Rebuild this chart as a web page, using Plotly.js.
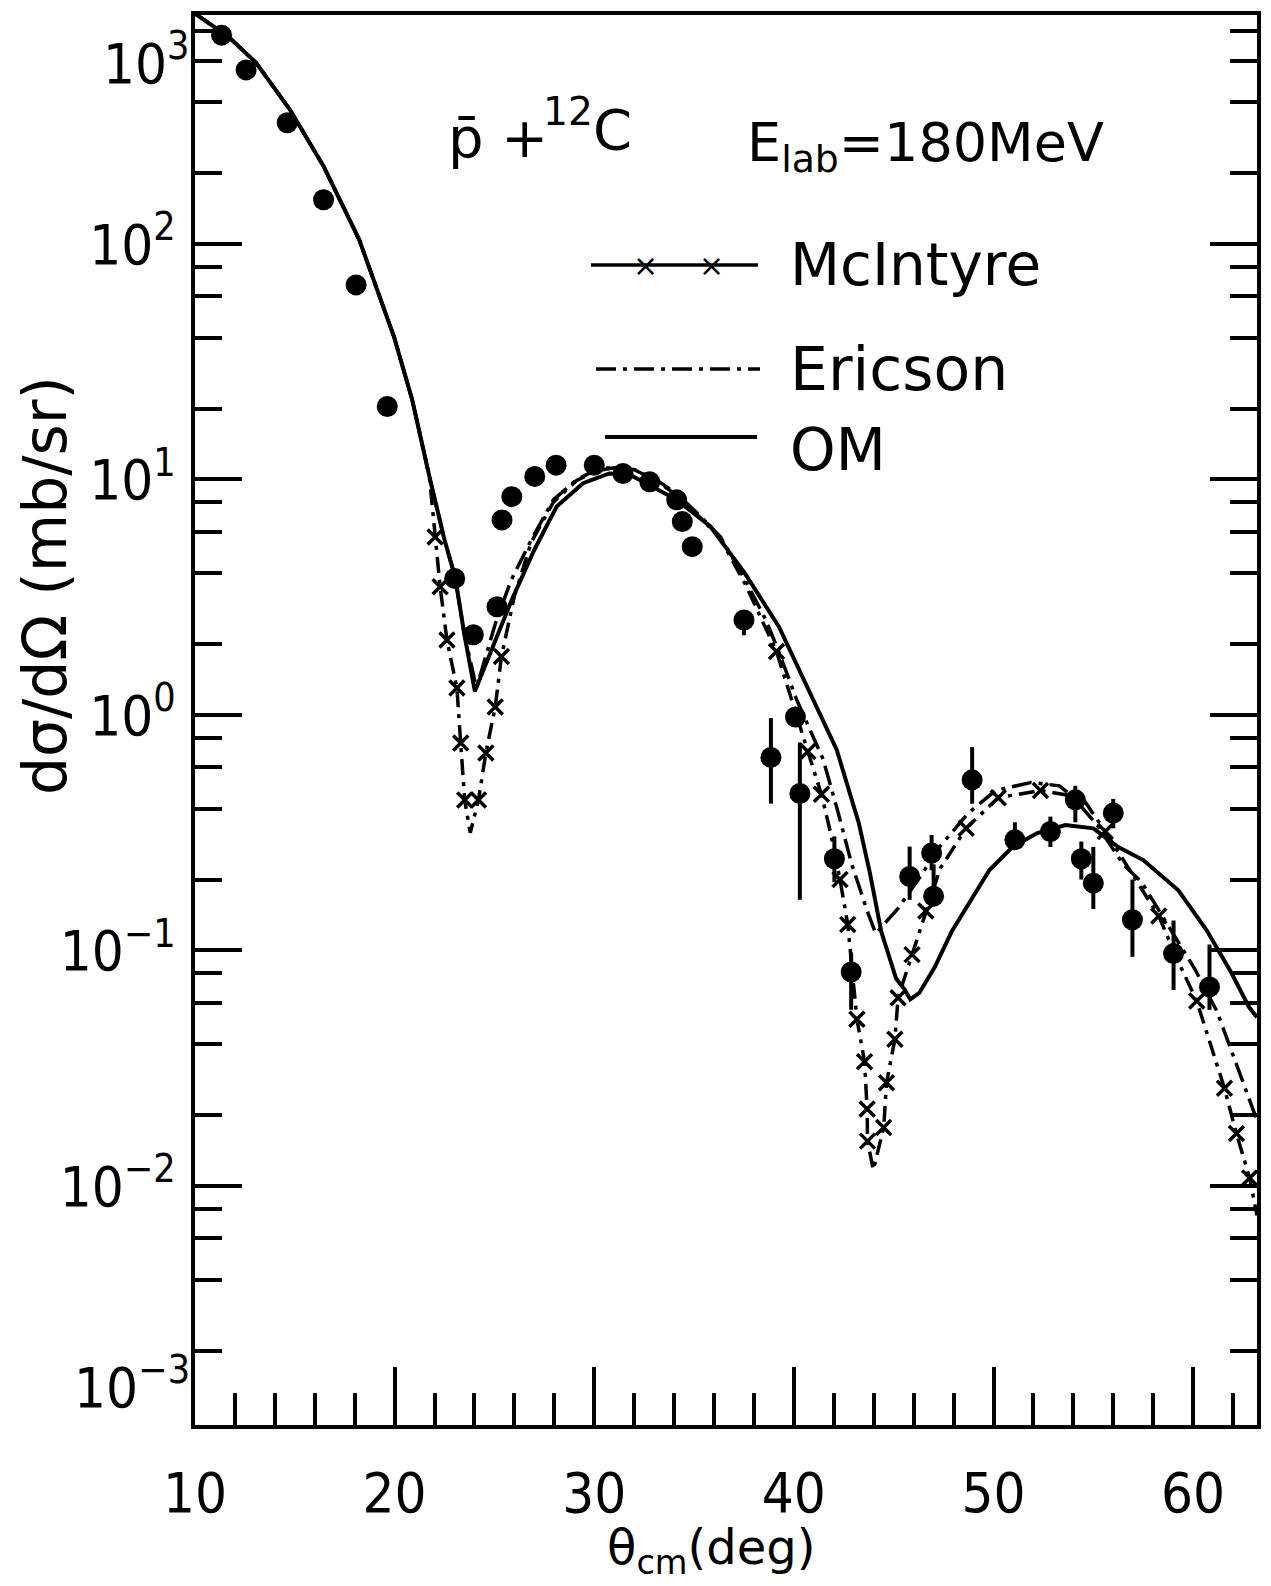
<!DOCTYPE html>
<html><head><meta charset="utf-8">
<script src="https://cdn.plot.ly/plotly-3.0.1.min.js"></script>
<style>html,body{margin:0;padding:0;background:#fff}#chart{width:1271px;height:1586px}</style>
</head><body><div id="chart"></div>
<script>
// ---- data ----
const omTheta = [10.0, 11.68, 13.06, 14.76, 16.46, 18.23, 19.97, 20.88, 21.74, 22.5, 23.03, 23.48, 24.02, 25.86, 27.0, 28.12, 29.44, 30.76, 31.77, 34.13, 35.82, 37.54, 39.25, 40.7, 42.15, 43.25, 43.81, 44.38, 45.12, 45.56, 45.83, 46.28, 47.06, 47.9, 48.77, 49.79, 50.97, 52.2, 53.6, 55.0, 56.25, 57.5, 59.26, 60.67, 61.93, 62.8, 63.2];
const omValue = [950, 757, 588, 371, 212, 104, 40.3, 21.8, 10.3, 5.53, 3.85, 2.23, 1.26, 3.07, 5.03, 7.68, 9.64, 10.6, 10.5, 8.19, 6.31, 4.0, 2.37, 1.3, 0.71, 0.348, 0.213, 0.12, 0.076, 0.068, 0.062, 0.066, 0.085, 0.12, 0.158, 0.219, 0.276, 0.315, 0.341, 0.33, 0.275, 0.242, 0.18, 0.122, 0.08, 0.0575, 0.052];

const ericsonTheta = [10.0, 11.68, 13.06, 14.76, 16.46, 18.23, 19.97, 20.88, 21.74, 22.5, 23.03, 23.48, 24.1, 25.05, 25.84, 26.84, 27.95, 29.12, 30.12, 31.0, 32.0, 33.0, 34.2, 35.3, 36.32, 37.56, 38.6, 39.27, 40.14, 40.82, 41.46, 42.2, 42.9, 43.7, 44.1, 45.22, 46.3, 47.3, 48.7, 50.1, 51.9, 53.3, 54.0, 55.2, 56.5, 57.4, 58.7, 60.1, 61.2, 62.6, 63.2];
const ericsonValue = [950, 757, 588, 371, 212, 104, 40.3, 21.8, 10.3, 5.53, 3.85, 2.23, 1.3, 2.45, 3.74, 5.53, 8.18, 10.0, 10.97, 11.3, 11.0, 10.1, 8.6, 7.0, 5.7, 3.74, 2.53, 1.83, 1.16, 0.86, 0.65, 0.39, 0.232, 0.145, 0.118, 0.151, 0.204, 0.275, 0.38, 0.478, 0.517, 0.5, 0.447, 0.34, 0.232, 0.196, 0.13, 0.083, 0.055, 0.026, 0.019];

const mcintyreTheta = [10.0, 11.68, 13.06, 14.76, 16.46, 18.23, 19.97, 20.88, 21.74, 22.03, 22.28, 22.62, 23.12, 23.31, 23.51, 23.79, 24.2, 24.57, 25.04, 25.35, 26.0, 26.84, 27.95, 29.12, 30.12, 31.0, 32.0, 33.0, 34.2, 35.3, 36.32, 37.56, 39.13, 40.7, 41.38, 41.86, 42.31, 42.7, 43.16, 43.54, 43.67, 43.69, 43.98, 44.5, 44.64, 45.06, 45.22, 45.92, 46.61, 47.33, 48.63, 50.24, 52.35, 54.45, 55.6, 58.28, 59.17, 60.18, 61.57, 62.17, 62.83, 63.2];
const mcintyreValue = [950, 757, 588, 371, 212, 104, 40.3, 21.8, 10.3, 5.7, 3.5, 2.08, 1.3, 0.76, 0.435, 0.316, 0.435, 0.69, 1.08, 1.77, 3.2, 5.4, 8.0, 9.9, 10.9, 11.2, 11.0, 10.0, 8.5, 6.9, 5.6, 3.6, 1.86, 0.7, 0.46, 0.31, 0.2, 0.129, 0.051, 0.0337, 0.0212, 0.0155, 0.0117, 0.0177, 0.0274, 0.042, 0.063, 0.096, 0.147, 0.223, 0.33, 0.445, 0.478, 0.445, 0.32, 0.14, 0.093, 0.061, 0.026, 0.0167, 0.0108, 0.0075];

const mcintyreMarkTheta = [22.03, 22.28, 22.62, 23.12, 23.31, 23.51, 24.2, 24.57, 25.04, 25.35, 39.13, 40.7, 41.38, 42.31, 42.7, 43.16, 43.54, 43.67, 43.69, 44.5, 44.64, 45.06, 45.22, 45.92, 46.61, 48.63, 50.24, 52.35, 55.6, 58.28, 60.18, 61.57, 62.17, 62.83];
const mcintyreMarkValue = [5.7, 3.5, 2.08, 1.3, 0.76, 0.435, 0.435, 0.69, 1.08, 1.77, 1.86, 0.7, 0.46, 0.2, 0.129, 0.051, 0.0337, 0.0212, 0.0155, 0.0177, 0.0274, 0.042, 0.063, 0.096, 0.147, 0.33, 0.445, 0.478, 0.32, 0.14, 0.061, 0.026, 0.0167, 0.0108];

const dataTheta = [11.33, 12.56, 14.62, 16.44, 18.07, 19.63, 23.01, 23.94, 25.13, 25.38, 25.87, 27.02, 28.09, 30.0, 31.44, 32.78, 34.13, 34.41, 34.91, 37.5, 38.85, 40.08, 40.3, 42.03, 42.87, 45.8, 46.9, 47.0, 48.93, 51.07, 52.85, 54.1, 54.4, 55.0, 56.0, 56.96, 59.02, 60.82];
const dataValue = [770, 548, 327, 154, 67, 20.4, 3.8, 2.19, 2.88, 6.73, 8.45, 10.3, 11.5, 11.5, 10.6, 9.77, 8.19, 6.62, 5.18, 2.53, 0.66, 0.98, 0.464, 0.245, 0.081, 0.206, 0.259, 0.17, 0.53, 0.295, 0.32, 0.436, 0.245, 0.193, 0.383, 0.135, 0.097, 0.07];
const dataErrPlus = [0, 0, 0, 0, 0, 0, 0, 0, 0, 0, 0, 0, 0, 0, 0, 0, 0, 0, 0, 0.25, 0.31, 0, 0.30, 0.06, 0.017, 0.07, 0.05, 0.062, 0.2, 0.055, 0.05, 0.064, 0.045, 0.082, 0.057, 0.065, 0.037, 0.036];
const dataErrMinus = [0, 0, 0, 0, 0, 0, 0, 0, 0, 0, 0, 0, 0, 0, 0, 0, 0, 0, 0, 0.35, 0.24, 0, 0.30, 0.05, 0.025, 0.042, 0.04, 0.013, 0.11, 0.025, 0.045, 0.086, 0.045, 0.043, 0.053, 0.041, 0.029, 0.014];

const xTickVals = [10, 20, 30, 40, 50, 60];
const xTickText = ['10', '20', '30', '40', '50', '60'];
const xMinorVals = [12, 14, 16, 18, 22, 24, 26, 28, 32, 34, 36, 38, 42, 44, 46, 48, 52, 54, 56, 58, 62];
const yTickVals = [0.01, 0.1, 1, 10, 100];
const yTickText = ['10<sup>−2</sup>', '10<sup>−1</sup>', '10<sup>0</sup>', '10<sup>1</sup>', '10<sup>2</sup>'];
const yMinorVals = [0.002, 0.004, 0.006, 0.008, 0.02, 0.04, 0.06, 0.08, 0.2, 0.4, 0.6, 0.8, 2, 4, 6, 8, 20, 40, 60, 80, 200, 400, 600, 800];

const legendNames = ['McIntyre', 'Ericson', 'OM'];

// ---- styles ----
const FONT = 'DejaVu Sans, Liberation Sans, sans-serif';
const NARROW = 'Liberation Sans Narrow, DejaVu Sans Condensed, DejaVu Sans, sans-serif';
const K = '#000';
const dashPattern = '20px,7px,4px,7px';

const traces = [
  {x: omTheta, y: omValue, type: 'scatter', mode: 'lines', line: {color: K, width: 4}, hoverinfo: 'skip'},
  {x: ericsonTheta, y: ericsonValue, type: 'scatter', mode: 'lines', line: {color: K, width: 3.5, dash: dashPattern}, hoverinfo: 'skip'},
  {x: mcintyreTheta, y: mcintyreValue, type: 'scatter', mode: 'lines', line: {color: K, width: 3.5, dash: '16px,7px,4px,7px'}, hoverinfo: 'skip'},
  {x: mcintyreMarkTheta, y: mcintyreMarkValue, type: 'scatter', mode: 'markers',
   marker: {symbol: 'x-thin', size: 15, color: K, line: {color: K, width: 3.5}}, hoverinfo: 'skip'},
  {x: dataTheta, y: dataValue, type: 'scatter', mode: 'markers',
   marker: {symbol: 'circle', size: 21, color: K},
   error_y: {type: 'data', symmetric: false, array: dataErrPlus, arrayminus: dataErrMinus, color: K, thickness: 4, width: 0},
   hoverinfo: 'skip'}
];

// plot area in pixels: x 195..1257, y 15..1425
const PL = 195, PR = 1257, PT = 15, PB = 1425;
const px = v => (v - PL) / (PR - PL);
const py = v => (PB - v) / (PB - PT);

const annFont = (s, f) => ({family: f || FONT, size: s, color: K});
const annotations = [
  {xref: 'paper', yref: 'paper', x: px(192), y: py(60), xanchor: 'right', yanchor: 'middle', showarrow: false, text: '10<sup>3</sup>', font: annFont(56, NARROW)},
  {xref: 'paper', yref: 'paper', x: px(192), y: py(1383), xanchor: 'right', yanchor: 'middle', showarrow: false, text: '10<sup>−3</sup>', font: annFont(56, NARROW)},
  {xref: 'paper', yref: 'paper', x: px(446), y: py(138), xanchor: 'left', yanchor: 'middle', showarrow: false, text: 'p̄ +', font: annFont(56)},
  {xref: 'paper', yref: 'paper', x: px(541), y: py(126), xanchor: 'left', yanchor: 'middle', showarrow: false, text: '<sup>12</sup>C', font: annFont(56)},
  {xref: 'paper', yref: 'paper', x: px(745), y: py(146), xanchor: 'left', yanchor: 'middle', showarrow: false, text: 'E<sub>lab</sub>=180MeV', font: annFont(54)},
  {xref: 'paper', yref: 'paper', x: px(788), y: py(265), xanchor: 'left', yanchor: 'middle', showarrow: false, text: legendNames[0], font: annFont(58)},
  {xref: 'paper', yref: 'paper', x: px(788), y: py(369), xanchor: 'left', yanchor: 'middle', showarrow: false, text: legendNames[1], font: annFont(60)},
  {xref: 'paper', yref: 'paper', x: px(788), y: py(450), xanchor: 'left', yanchor: 'middle', showarrow: false, text: legendNames[2], font: annFont(58)},
  {xref: 'paper', yref: 'paper', x: px(645), y: py(265), xanchor: 'center', yanchor: 'middle', showarrow: false, text: '×', font: annFont(30)},
  {xref: 'paper', yref: 'paper', x: px(711), y: py(265), xanchor: 'center', yanchor: 'middle', showarrow: false, text: '×', font: annFont(30)},
  {xref: 'paper', yref: 'paper', x: px(45), y: py(586), xanchor: 'center', yanchor: 'middle', showarrow: false, textangle: -90, text: 'dσ/dΩ (mb/sr)', font: annFont(60)},
  {xref: 'paper', yref: 'paper', x: px(605), y: py(1550), xanchor: 'left', yanchor: 'middle', showarrow: false, text: 'θ<sub>cm</sub>(deg)', font: annFont(48)}
];

const shapes = [
  {type: 'line', xref: 'paper', yref: 'paper', x0: px(591), x1: px(758), y0: py(265), y1: py(265), line: {color: K, width: 3.5}},
  {type: 'line', xref: 'paper', yref: 'paper', x0: px(596), x1: px(760), y0: py(369), y1: py(369), line: {color: K, width: 3.5, dash: dashPattern}},
  {type: 'line', xref: 'paper', yref: 'paper', x0: px(605), x1: px(757), y0: py(437), y1: py(437), line: {color: K, width: 4}}
];

const layout = {
  width: 1271, height: 1586,
  margin: {l: PL, r: 1271 - PR, t: PT, b: 1586 - PB, pad: 0},
  paper_bgcolor: '#fff', plot_bgcolor: '#fff',
  showlegend: false,
  font: {family: FONT, color: K},
  xaxis: {
    range: [10, 63.2], showgrid: false, zeroline: false, automargin: false,
    showline: true, linewidth: 4, linecolor: K, mirror: true,
    tickmode: 'array', tickvals: xTickVals, ticktext: xTickText,
    ticks: 'inside', ticklen: 58, tickwidth: 4, tickcolor: K,
    tickfont: {family: NARROW, size: 56, color: K}, ticklabelstandoff: 16,
    minor: {tickmode: 'array', tickvals: xMinorVals, ticks: 'inside', ticklen: 32, tickwidth: 4, tickcolor: K, showgrid: false}
  },
  yaxis: {
    type: 'log', range: [-3.015, 2.972], showgrid: false, zeroline: false, automargin: false,
    showline: true, linewidth: 4, linecolor: K, mirror: 'ticks',
    tickmode: 'array', tickvals: yTickVals, ticktext: yTickText,
    ticks: 'inside', ticklen: 47, tickwidth: 4, tickcolor: K,
    tickfont: {family: NARROW, size: 56, color: K}, ticklabelstandoff: 4,
    minor: {tickmode: 'array', tickvals: yMinorVals, ticks: 'inside', ticklen: 27, tickwidth: 4, tickcolor: K, showgrid: false}
  },
  annotations: annotations,
  shapes: shapes
};

Plotly.newPlot('chart', traces, layout, {staticPlot: true, displayModeBar: false});
</script>
</body></html>
